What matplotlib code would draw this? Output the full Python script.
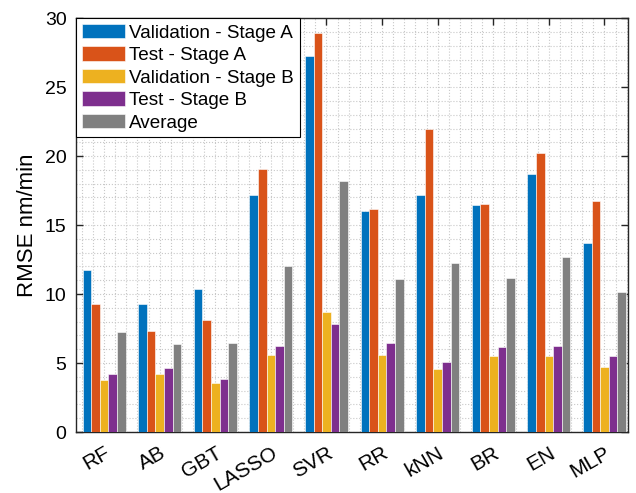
import matplotlib
matplotlib.use('Agg')
import matplotlib.pyplot as plt
from matplotlib.ticker import MultipleLocator
import numpy as np

plt.rcParams['font.family'] = ['Liberation Sans', 'DejaVu Sans']

# Models and RMSE values
models = ['RF', 'AB', 'GBT', 'LASSO', 'SVR', 'RR', 'kNN', 'BR', 'EN', 'MLP']
seriesNames = ['Validation - Stage A', 'Test - Stage A', 'Validation - Stage B',
               'Test - Stage B', 'Average']
valStageA = [11.76, 9.28, 10.39, 17.17, 27.27, 16.04, 17.15, 16.45, 18.67, 13.72]
testStageA = [9.25, 7.32, 8.12, 19.08, 28.94, 16.16, 21.96, 16.50, 20.22, 16.74]
valStageB = [3.77, 4.20, 3.53, 5.56, 8.70, 5.60, 4.59, 5.49, 5.50, 4.73]
testStageB = [4.20, 4.61, 3.84, 6.23, 7.83, 6.42, 5.10, 6.16, 6.21, 5.49]
average = [7.22, 6.38, 6.45, 12.00, 18.19, 11.06, 12.22, 11.14, 12.66, 10.17]

colors = ['#0072BD', '#D95319', '#EDB120', '#7E2F8E', '#808080']


def main():
    fig = plt.figure(figsize=(6.36, 4.93), dpi=100)
    ax = fig.add_axes([0.120, 0.1237, 0.868, 0.8395])

    allSeries = [valStageA, testStageA, valStageB, testStageB, average]
    x = np.arange(1, len(models) + 1)
    slot = 0.155
    for i, values in enumerate(allSeries):
        offset = (i - 2) * slot
        ax.bar(x + offset, values, width=slot, color=colors[i], edgecolor='white',
               linewidth=0.4, label=seriesNames[i], zorder=3)

    ax.set_xlim(0.5, 10.43)
    ax.set_ylim(0, 30)
    ax.set_xticks(x)
    ax.set_xticklabels(models, rotation=30, ha='right', rotation_mode='anchor', fontsize=15)
    ax.set_yticks(np.arange(0, 31, 5))
    ax.tick_params(axis='y', labelsize=14, pad=7)
    ax.tick_params(axis='x', pad=8)
    ax.yaxis.set_minor_locator(MultipleLocator(1))
    ax.xaxis.set_minor_locator(MultipleLocator(0.2))
    ax.tick_params(which='both', direction='in', top=True, right=True, width=1.0,
                   colors='#262626', labelcolor='black')
    ax.tick_params(which='major', length=5)
    ax.tick_params(which='minor', length=0)
    ax.grid(which='both', linestyle=':', color='#C8C8C8', linewidth=0.8, zorder=0)
    ax.set_axisbelow(True)
    for spine in ax.spines.values():
        spine.set_color('#262626')
        spine.set_linewidth(1.0)

    ax.set_ylabel('RMSE nm/min', fontsize=16)
    ax.yaxis.set_label_coords(-0.07, 0.5)

    leg = ax.legend(loc='upper left', bbox_to_anchor=(0.0, 1.0), fontsize=13.6,
                    handlelength=2.3, handleheight=0.8, handletextpad=0.2,
                    labelspacing=0.25, borderpad=0.3, borderaxespad=0.0,
                    fancybox=False, framealpha=1.0, edgecolor='black')
    leg.get_frame().set_linewidth(0.8)

    fig.savefig('out.png', dpi=100)


if __name__ == '__main__':
    main()
